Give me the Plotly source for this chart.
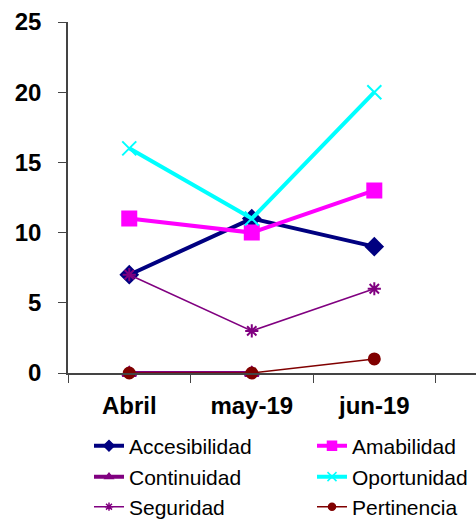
import plotly.graph_objects as go

# Monthly counts per attribute
months = ["Abril", "may-19", "jun-19"]
accesibilidad = [7, 11, 9]
amabilidad = [11, 10, 13]
continuidad = [0, 0, None]
oportunidad = [16, 11, 20]
seguridad = [7, 3, 6]
pertinencia = [0, 0, 1]
y_ticks = [0, 5, 10, 15, 20, 25]

FONT = "Liberation Sans, Arial, sans-serif"

# name, values, colour, line width, marker, marker size
series = [
    ("Accesibilidad", accesibilidad, "#000080", 4, "diamond", 13),
    ("Amabilidad", amabilidad, "#FF00FF", 4, "square", 14),
    ("Continuidad", continuidad, "#800080", 4, "triangle-up", 12),
    ("Oportunidad", oportunidad, "#00FFFF", 4, "x-thin", 14),
    ("Seguridad", seguridad, "#800080", 1.5, "asterisk", 11),
    ("Pertinencia", pertinencia, "#800000", 1.5, "circle", 11),
]

# legend grid: two columns, three rows
col_x = [89, 312]
row_y = [446, 477, 507]

fig = go.Figure()
legends = {}
for i, (name, vals, color, lw, sym, ms) in enumerate(series):
    key = "legend" if i == 0 else f"legend{i + 1}"
    fig.add_trace(go.Scatter(
        x=months, y=vals, name=name, mode="lines+markers",
        line=dict(color=color, width=lw),
        marker=dict(symbol=sym, size=ms, color=color,
                    line=dict(color=color, width=2)),
        cliponaxis=False, showlegend=False,
    ))
    # legend-only entry with a smaller key marker
    fig.add_trace(go.Scatter(
        x=[None], y=[None], name=name, mode="lines+markers",
        line=dict(color=color, width=lw),
        marker=dict(symbol=sym, size=max(ms - 5, 7), color=color,
                    line=dict(color=color, width=1.5)),
        legend=key, showlegend=True,
    ))
    legends[key] = dict(
        x=col_x[i % 2] / 476, y=1 - row_y[i // 2] / 519,
        xanchor="left", yanchor="middle",
        xref="container", yref="container",
        font=dict(size=21, family=FONT, color="black"),
        bgcolor="rgba(0,0,0,0)",
    )

fig.update_layout(
    width=476, height=519,
    margin=dict(l=68, r=0, t=22, b=146, autoexpand=False),
    plot_bgcolor="white", paper_bgcolor="white",
    font=dict(family=FONT, color="black"),
    **legends,
)
fig.update_xaxes(
    type="category", range=[-0.5, 2.83],
    tickson="boundaries", ticks="outside", ticklen=8, tickcolor="#444444",
    showline=True, linecolor="#444444", linewidth=1.5,
    showgrid=False, zeroline=False, ticklabelstandoff=10,
    tickfont=dict(size=24, family=FONT, weight="bold"),
)
fig.update_yaxes(
    range=[0, 25], tickvals=y_ticks, ticks="outside", ticklen=8,
    tickcolor="#444444", showline=True, linecolor="#444444", linewidth=1.5,
    showgrid=False, zeroline=False, ticklabelstandoff=12,
    tickfont=dict(size=24, family=FONT, weight="bold"),
)

fig.write_html("out.html")
